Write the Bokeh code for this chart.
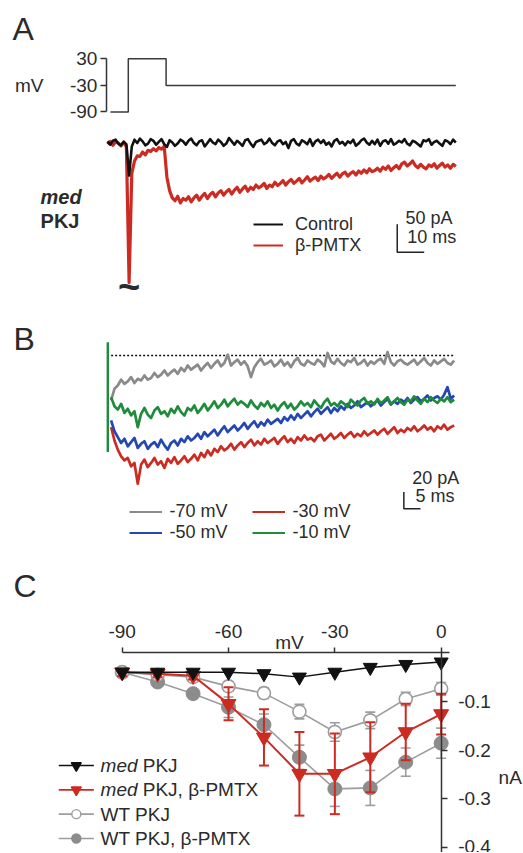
from bokeh.plotting import figure
from bokeh.models import Range1d, LinearAxis, FixedTicker, Legend, LegendItem, PrintfTickFormatter
from bokeh.layouts import column
from bokeh.core.properties import value
from bokeh.embed import file_html
from bokeh.resources import INLINE

FONT = "Liberation Sans"
TXT = "#2b2b2b"
RED = "#cc2b22"
GRAY = "#9d9d9d"
GRAY_FILL = "#8c8c8c"

# ------------------------------------------------------------------ data
# Panel A: command step (ms, mV)
step_ms = [1.1, 7.7, 7.7, 21.7, 21.7, 129.0]
step_mv = [-90, -90, 30, 30, -30, -30]
v_ticks = [-90, -30, 30]

# Panel A: currents (pA), sampled every 1 ms
a_control = [2, -4, 3, 5, -2, -5, 1, -3, -59, -7,
             5, -1, 7, 2, -5, -2, 6, 3, -4, 1,
             6, -3, -8, 4, 0, -6, -2, 5, 2, -4,
             3, 7, -1, -5, 2, 4, -7, -1, 6, 0,
             -3, 5, 1, -6, -2, 8, 2, -4, 3, -1,
             -6, 4, 6, -2, -8, 1, 3, 5, -3, 0,
             7, -1, -5, 2, 4, -3, 1, -10, 3, 6,
             -2, -5, 4, 1, -3, 6, -6, 2, 5, -1,
             4, -4, 0, -7, 3, 6, -2, 1, -5, 2,
             -1, 5, -6, -2, 4, 7, 0, -4, 3, -3,
             5, -6, 2, 4, -2, 6, -4, -1, 3, 0,
             6, -2, -5, 3, 1, -3, -7, 4, 2, 6,
             -4, 1, 3, -2, -6, 4, 2, -3, 5, 0]
a_pmtx = [-3, 2, -5, 1, -1, -6, 1, -8, -250, -55,
          -33, -24, -25, -17, -22, -14, -16, -11, -15, -9,
          -12, -7, -62, -86, -99, -104, -96, -108, -100, -103,
          -97, -106, -99, -94, -103, -96, -91, -100, -93, -89,
          -97, -90, -86, -94, -88, -84, -92, -85, -80, -89,
          -83, -78, -87, -80, -84, -76, -81, -78, -73, -82,
          -76, -79, -71, -77, -73, -68, -76, -70, -66, -73,
          -69, -64, -72, -67, -61, -69, -65, -62, -68, -60,
          -65, -62, -57, -64, -59, -55, -62, -56, -53, -60,
          -55, -52, -58, -51, -55, -49, -54, -47, -52, -50,
          -46, -51, -44, -48, -42, -50, -45, -41, -47, -38,
          -35, -42, -38, -33, -41, -45, -39, -44, -47, -40,
          -43, -38, -46, -41, -37, -44, -40, -46, -39, -43]
a_ms = list(range(len(a_control)))

# Panel B: tail currents (pA) at four potentials, sampled every 1 ms from 1 ms
b_m70 = [-54, -40, -36, -29, -34, -31, -26, -33, -28, -30,
         -24, -29, -27, -21, -26, -23, -18, -24, -20, -17,
         -22, -15, -19, -12, -17, -14, -11, -18, -13, -9,
         -15, -10, -6, -13, -9, 1, -12, -8, -5, -11,
         -7, -13, -26, -14, -8, -4, -11, -9, -6, -13,
         -10, -5, -12, -8, -14, -7, -3, -10, -12, -6,
         -9, -11, -5, -8, -13, 3, -7, -10, -4, -9,
         -12, -6, -8, -3, -11, -9, -5, -12, -7, -10,
         -6, -4, -10, 4, -8, -12, -7, -5, -9, -11,
         -8, -5, -11, -7, -3, -9, -12, -6, -10, -7,
         -4, -9, -11, -6]
b_m50 = [-78, -91, -98, -105, -100, -109, -104, -99, -111, -106,
         -103, -112, -107, -104, -110, -101, -108, -113, -105, -102,
         -108, -100, -104, -97, -102, -99, -94, -100, -92, -97,
         -93, -89, -96, -90, -85, -92, -88, -84, -90, -86,
         -81, -88, -83, -79, -86, -80, -84, -77, -82, -79,
         -76, -81, -74, -78, -72, -77, -70, -75, -71, -67,
         -73, -68, -64, -70, -66, -62, -69, -63, -67, -61,
         -65, -58, -63, -60, -55, -62, -59, -56, -61, -57,
         -54, -60, -56, -52, -59, -55, -58, -53, -56, -51,
         -57, -53, -50, -55, -52, -48, -54, -51, -49, -53,
         -47, -38, -52, -48]
b_m30 = [-86, -102, -113, -121, -126, -123, -133, -129, -154, -131,
         -125, -134, -129, -123, -131, -127, -135, -124, -129, -122,
         -130, -126, -121, -128, -124, -119, -126, -117, -122, -114,
         -120, -112, -116, -109, -114, -111, -106, -113, -108, -104,
         -110, -105, -101, -108, -103, -107, -100, -105, -102, -99,
         -106, -101, -97, -104, -100, -105, -98, -102, -96, -101,
         -99, -103, -97, -95, -102, -98, -94, -100, -97, -93,
         -99, -95, -92, -98, -94, -97, -91, -96, -93, -90,
         -95, -91, -88, -94, -90, -86, -93, -89, -92, -87,
         -90, -85, -91, -88, -84, -89, -86, -91, -85, -88,
         -83, -89, -86, -84]
b_m10 = [-50, -61, -65, -58, -69, -64, -72, -67, -86, -70,
         -63, -71, -75, -66, -62, -70, -67, -73, -64, -69,
         -61, -68, -72, -63, -66, -60, -69, -64, -58, -66,
         -61, -55, -63, -59, -53, -61, -56, -52, -59, -55,
         -58, -62, -54, -60, -64, -57, -61, -55, -63, -59,
         -66, -60, -56, -63, -58, -65, -61, -55, -60, -57,
         -62, -54, -59, -63, -56, -52, -60, -57, -61, -55,
         -58, -62, -53, -57, -60, -54, -51, -58, -55, -59,
         -52, -57, -54, -50, -58, -55, -51, -56, -59, -53,
         -55, -49, -54, -58, -52, -56, -50, -54, -57, -52,
         -55, -50, -56, -53]
b_ms = [i + 1 for i in range(len(b_m70))]
b_transient_ms = 0
b_transient_pa = [16, -116]
b_zero_ms = [1, 104]
b_zero_pa = [0, 0]

# Panel C: I-V relations (mV, nA)
c_mv = [-90, -80, -70, -60, -50, -40, -30, -20, -10, 0]
c_med = [-0.040, -0.040, -0.040, -0.040, -0.043, -0.050, -0.040, -0.030, -0.024, -0.019]
c_med_pmtx = [-0.040, -0.043, -0.047, -0.105, -0.174, -0.249, -0.249, -0.215, -0.163, -0.126]
c_med_pmtx_err = [0.008, 0.007, 0.008, 0.034, 0.058, 0.086, 0.083, 0.072, 0.058, 0.042]
c_wt = [-0.040, -0.045, -0.050, -0.069, -0.083, -0.121, -0.163, -0.139, -0.095, -0.074]
c_wt_err = [0.004, 0.005, 0.006, 0.010, 0.011, 0.015, 0.019, 0.017, 0.014, 0.013]
c_wt_pmtx = [-0.040, -0.060, -0.084, -0.112, -0.148, -0.215, -0.280, -0.278, -0.225, -0.186]
c_wt_pmtx_err = [0.006, 0.008, 0.010, 0.021, 0.022, 0.025, 0.036, 0.036, 0.029, 0.031]
c_xticks = [-90, -60, -30, 0]
c_yticks = [-0.4, -0.3, -0.2, -0.1]

COL_CTRL, COL_M70, COL_M50, COL_M10 = "#111111", "#8a8a8a", "#2448b0", "#1e8c3a"


# ------------------------------------------------------------------ helpers
def panel(h, xr, yr):
    p = figure(width=523, height=h, x_range=Range1d(*xr), y_range=Range1d(*yr),
               x_axis_type=None, y_axis_type=None, toolbar_location=None,
               output_backend="svg", min_border=0, outline_line_color=None,
               background_fill_color="white", border_fill_color="white")
    return p


def label(p, x, y, s, size="18px", align="left", style="normal", y_range_name="default"):
    p.text(x=[x], y=[y], text=[s], text_font=value(FONT), text_font_size=size,
           text_align=align, text_baseline="middle", text_color=TXT,
           text_font_style=style, y_range_name=y_range_name)


def style_axis(ax, fmt, tick_out=6, standoff=5):
    ax.formatter = PrintfTickFormatter(format=fmt)
    ax.axis_line_color = "#333333"
    ax.axis_line_width = 1.5
    ax.major_tick_line_color = "#333333"
    ax.major_tick_line_width = 1.5
    ax.major_tick_in = 0
    ax.major_tick_out = tick_out
    ax.minor_tick_line_color = None
    ax.major_label_text_font = FONT
    ax.major_label_text_font_size = "19px"
    ax.major_label_text_color = TXT
    ax.major_label_standoff = standoff


def legend(items, x, y, gw, gh, standoff):
    return Legend(items=items, location=(x, y), orientation="vertical",
                  glyph_width=gw, glyph_height=gh, label_height=gh,
                  label_standoff=standoff, spacing=0, padding=0, margin=0,
                  border_line_color=None, background_fill_alpha=0,
                  label_text_font=FONT, label_text_font_size="18px",
                  label_text_color=TXT)


def swatch(p, xs, ys, color):
    # legend-only renderer: a single-point line draws nothing in the plot,
    # but gives the legend a thin line of the trace colour
    return p.line(xs[:1], ys[:1], line_color=color, line_width=2)


# ------------------------------------------------------------------ panel A
pA = panel(312, (-39.63, 154.07), (-303.6, 253.57))
pA.extra_y_ranges = {"mv": Range1d(-542.3, 161.5)}
pA.line(step_ms, step_mv, y_range_name="mv", line_color="#3a3a3a", line_width=1.5)
vax = LinearAxis(y_range_name="mv", fixed_location=-0.4, bounds=(-90, 30),
                 ticker=FixedTicker(ticks=v_ticks))
style_axis(vax, "%d", tick_out=6, standoff=3)
pA.add_layout(vax, "left")
label(pA, -23.7, -30, "mV", size="19px", align="right", y_range_name="mv")

pA.line(a_ms, a_pmtx, line_color=RED, line_width=3.2, line_join="round")
pA.line(a_ms, a_control, line_color=COL_CTRL, line_width=2.6, line_join="round")

sbA_t, sbA_i, sbA_ms, sbA_pa = 107.3, -196, 10, 50
pA.line([sbA_t, sbA_t, sbA_t + sbA_ms], [sbA_i + sbA_pa, sbA_i, sbA_i],
        line_color="#222222", line_width=1.5)
label(pA, 110.4, -135, "50 pA")
label(pA, 111.0, -169.6, "10 ms")

label(pA, -35.2, 202.7, "A", size="32px")
label(pA, -24.8, -97.7, "med", size="20px", style="bold italic")
label(pA, -24.8, -140.2, "PKJ", size="20px", style="bold")
label(pA, 7.96, -258.4, "~", size="38px", align="center", style="bold")

pA.add_layout(legend(
    [LegendItem(label="Control", renderers=[swatch(pA, a_ms, a_control, COL_CTRL)]),
     LegendItem(label="β-PMTX", renderers=[swatch(pA, a_ms, a_pmtx, RED)])],
    253, 56.5, 30, 20, 12))

# ------------------------------------------------------------------ panel B
pB = panel(248, (-32.22, 124.83), (-246.1, 51.6))
pB.line(b_zero_ms, b_zero_pa, line_color="#111111", line_width=1.5, line_dash="2 2")
for ys, col in ((b_m70, COL_M70), (b_m30, RED), (b_m50, COL_M50), (b_m10, COL_M10)):
    pB.line(b_ms, ys, line_color=col, line_width=2.7, line_join="round")
pB.segment(x0=[b_transient_ms], y0=[b_transient_pa[0]], x1=[b_transient_ms],
           y1=[b_transient_pa[1]], line_color=COL_M10, line_width=2.4)

sbB_t, sbB_i, sbB_ms, sbB_pa = 88.9, -184, 5, 20
pB.line([sbB_t, sbB_t, sbB_t + sbB_ms], [sbB_i + sbB_pa, sbB_i, sbB_i],
        line_color="#222222", line_width=1.5)
label(pB, 91.4, -147.1, "20 pA")
label(pB, 92.4, -169.1, "5 ms")
label(pB, -28.3, 19.8, "B", size="32px")

pB.add_layout(legend(
    [LegendItem(label="-70 mV", renderers=[swatch(pB, b_ms, b_m70, COL_M70)]),
     LegendItem(label="-50 mV", renderers=[swatch(pB, b_ms, b_m50, COL_M50)])],
    128.5, 17.3, 33, 19, 8))
pB.add_layout(legend(
    [LegendItem(label="-30 mV", renderers=[swatch(pB, b_ms, b_m30, RED)]),
     LegendItem(label="-10 mV", renderers=[swatch(pB, b_ms, b_m10, COL_M10)])],
    251.5, 17.3, 33, 19, 8))

# ------------------------------------------------------------------ panel C
pC = panel(292, (-124.34, 23.23), (-0.4109, 0.19))

xax = LinearAxis(fixed_location=0, bounds=(-90, 2.3), ticker=FixedTicker(ticks=c_xticks))
style_axis(xax, "%d", tick_out=5, standoff=10)
pC.add_layout(xax, "above")
yax = LinearAxis(fixed_location=0, bounds=(-0.42, 0), ticker=FixedTicker(ticks=c_yticks))
style_axis(yax, "%.1f", tick_out=6, standoff=11)
pC.add_layout(yax, "right")


def errorbars(p, ys, errs, color, width):
    lo = [y - e for y, e in zip(ys, errs)]
    hi = [y + e for y, e in zip(ys, errs)]
    p.segment(x0=c_mv, y0=lo, x1=c_mv, y1=hi, line_color=color, line_width=width)
    p.scatter(c_mv + c_mv, lo + hi, marker="dash", size=10, line_color=color,
              line_width=width)


# WT + beta-PMTX (filled gray)
pC.line(c_mv, c_wt_pmtx, line_color=GRAY, line_width=1.6)
errorbars(pC, c_wt_pmtx, c_wt_pmtx_err, GRAY, 1.6)
pC.scatter(c_mv, c_wt_pmtx, marker="circle", size=14, fill_color=GRAY_FILL,
           line_color=GRAY_FILL)
# WT (open)
pC.line(c_mv, c_wt, line_color=GRAY, line_width=1.6)
errorbars(pC, c_wt, c_wt_err, GRAY, 1.6)
pC.scatter(c_mv, c_wt, marker="circle", size=13, fill_color="white",
           line_color=GRAY, line_width=1.6)
# med + beta-PMTX (red)
pC.line(c_mv, c_med_pmtx, line_color=RED, line_width=2)
errorbars(pC, c_med_pmtx, c_med_pmtx_err, RED, 2)
pC.scatter(c_mv, c_med_pmtx, marker="inverted_triangle", size=15, fill_color=RED,
           line_color=RED)
# med (black)
pC.line(c_mv, c_med, line_color="#111111", line_width=1.5)
pC.scatter(c_mv, c_med, marker="inverted_triangle", size=14, fill_color="#111111",
           line_color="#111111")

label(pC, -120.67, 0.1385, "C", size="32px")
label(pC, -42.8, 0.021, "mV", size="19px", align="center")
label(pC, 16.2, -0.256, "nA", size="19px")

# legend of panel C (mixed italic/roman labels, so drawn as text)
leg_y0, leg_dy = -0.232, 0.05
sw_x0, sw_x1, sw_xm, txt_x, pkj_x = -107.9, -98.0, -102.95, -96.1, -84.2
leg_rows = [
    ("#111111", "inverted_triangle", "#111111", "med", "PKJ"),
    (RED, "inverted_triangle", RED, "med", "PKJ, β-PMTX"),
    (GRAY, "circle", "white", None, "WT PKJ"),
    (GRAY, "circle", GRAY_FILL, None, "WT PKJ, β-PMTX"),
]
for k, (lc, mk, fc, ital, rest) in enumerate(leg_rows):
    y = leg_y0 - k * leg_dy
    pC.line([sw_x0, sw_x1], [y, y], line_color=lc, line_width=1.6)
    pC.scatter([sw_xm], [y], marker=mk, size=9 if mk == "circle" else 10,
               fill_color=fc, line_color=lc if fc == "white" else fc, line_width=1.4)
    if ital:
        label(pC, txt_x, y, ital, size="19px", style="italic")
        label(pC, pkj_x, y, rest, size="19px")
    else:
        label(pC, txt_x, y, rest, size="19px")

layout = column(pA, pB, pC)
open("out.html", "w").write(file_html(layout, INLINE))
